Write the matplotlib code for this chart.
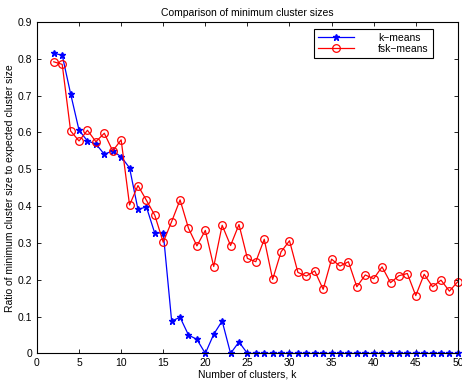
import numpy as np
from matplotlib import pyplot as plt

plt.rcParams['font.family'] = ['Liberation Sans', 'DejaVu Sans']

k = list(range(2, 51))
kmeans = [0.815, 0.81, 0.705, 0.606, 0.577, 0.569, 0.541, 0.55, 0.534, 0.504,
          0.391, 0.398, 0.326, 0.328, 0.088, 0.098, 0.05, 0.038, 0.0, 0.052,
          0.088, 0.0, 0.031] + [0.0] * 26
fskmeans = [0.792, 0.785, 0.604, 0.577, 0.606, 0.575, 0.598, 0.55, 0.58, 0.403,
            0.456, 0.416, 0.375, 0.302, 0.358, 0.417, 0.34, 0.292, 0.334, 0.236,
            0.348, 0.293, 0.35, 0.258, 0.249, 0.31, 0.201, 0.276, 0.306, 0.22,
            0.21, 0.224, 0.174, 0.256, 0.237, 0.249, 0.181, 0.213, 0.203, 0.235,
            0.192, 0.211, 0.217, 0.157, 0.215, 0.181, 0.199, 0.169, 0.195]

fig = plt.figure(figsize=(4.62, 3.8), dpi=100)
ax = fig.add_axes([0.080, 0.070, 0.911, 0.872])

ax.plot(k, kmeans, color='blue', marker='*', markersize=4.5, linewidth=0.9,
        label='k\u2212means', clip_on=False)
ax.plot(k, fskmeans, color='red', marker='o', markersize=5.5, markerfacecolor='none',
        markeredgewidth=0.9, linewidth=0.9, label='fsk\u2212means', clip_on=False)

ax.set_xlim(0, 50)
ax.set_ylim(0, 0.9)
ax.set_xticks(np.arange(0, 51, 5))
ax.set_yticks(np.arange(0, 0.91, 0.1))
ax.set_yticklabels(['0', '0.1', '0.2', '0.3', '0.4', '0.5', '0.6', '0.7', '0.8', '0.9'])
ax.tick_params(direction='in', top=True, right=True, labelsize=7.5, length=3, width=0.6)
for s in ax.spines.values():
    s.set_linewidth(0.8)

ax.set_xlabel('Number of clusters, k', fontsize=7.5, labelpad=1)
ax.set_ylabel('Ratio of minimum cluster size to expected cluster size', fontsize=7.5, labelpad=2)
ax.set_title('Comparison of minimum cluster sizes', fontsize=7.5, pad=4)

leg = ax.legend(loc='upper left', bbox_to_anchor=(0.645, 0.995), fontsize=7.5,
                fancybox=False, edgecolor='black', framealpha=1,
                handlelength=3.5, handletextpad=2.3, borderpad=0.4, labelspacing=0.1)
leg.get_frame().set_linewidth(0.8)

plt.savefig('out.png', dpi=100)
